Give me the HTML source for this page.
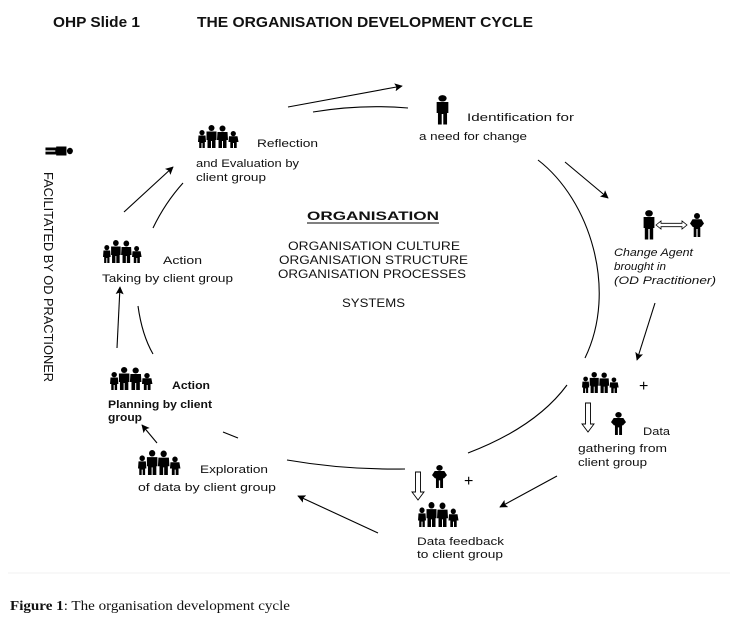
<!DOCTYPE html>
<html><head><meta charset="utf-8"><style>
html,body{margin:0;padding:0;background:#fff;}
svg{display:block;}
.l{font-family:"Liberation Sans",sans-serif;font-size:11px;fill:#111;}
.c{font-family:"Liberation Sans",sans-serif;font-size:11.5px;fill:#111;}
.t{font-family:"Liberation Sans",sans-serif;font-size:15px;font-weight:bold;fill:#111;}
.cap{font-family:"Liberation Serif",serif;font-size:14px;fill:#111;}
</style></head><body>
<svg width="730" height="629" viewBox="0 0 730 629" xmlns="http://www.w3.org/2000/svg">
<defs>
<marker id="ah" viewBox="0 0 10 10" refX="9" refY="5" markerWidth="11" markerHeight="8" orient="auto" markerUnits="userSpaceOnUse">
<path d="M0,0 L10,5 L0,10 L2,5 z" fill="#000"/></marker>
<symbol id="p" viewBox="0 0 10 30" preserveAspectRatio="none">
<circle cx="5" cy="3.3" r="3.2"/>
<path d="M0.5,7 L9.5,7 L9.5,18 L8.5,18 L8.5,29.5 L5.6,29.5 L5.6,19 L4.4,19 L4.4,29.5 L1.5,29.5 L1.5,18 L0.5,18 Z"/></symbol>
<symbol id="q" viewBox="0 0 14 24" preserveAspectRatio="none">
<circle cx="7" cy="3" r="3"/>
<path d="M2.5,6.3 L11.5,6.3 L14,10.5 L11.2,14 L10.3,14 L10.3,24 L7.6,24 L7.6,16 L6.4,16 L6.4,24 L3.7,24 L3.7,14 L2.8,14 L0,10.5 Z"/></symbol>
<symbol id="g" viewBox="0 0 42 23" preserveAspectRatio="none">
<circle cx="4" cy="7.6" r="2.6"/>
<path d="M0.5,10.5 L7.5,10.5 L8,17 L6.8,17 L6.8,23 L4.5,23 L4.5,18 L3.5,18 L3.5,23 L1.2,23 L1.2,17 L0,17 Z"/>
<circle cx="13.5" cy="3" r="3"/>
<path d="M8.5,6.5 L18.5,6.5 L18.5,15 L17.5,15 L17.5,23 L14,23 L14,16 L13,16 L13,23 L9.5,23 L9.5,15 L8.5,15 Z"/>
<circle cx="24.5" cy="3.5" r="3"/>
<path d="M19.5,7 L29.5,7 L30,15 L28.5,15 L28.5,23 L25,23 L25,16 L24,16 L24,23 L20.5,23 L20.5,15 L19,15 Z"/>
<circle cx="35.3" cy="8.6" r="2.6"/>
<path d="M31,11.3 L39.5,11.3 L40.5,17 L38.7,17 L38.7,23 L36,23 L36,18 L35,18 L35,23 L32.3,23 L32.3,17 L30.5,17 Z"/></symbol>
</defs>
<rect width="730" height="629" fill="#fff"/>

<!-- titles -->
<text class="t" x="53" y="27" textLength="87" lengthAdjust="spacingAndGlyphs">OHP Slide 1</text>
<text class="t" x="197" y="27" textLength="336" lengthAdjust="spacingAndGlyphs">THE ORGANISATION DEVELOPMENT CYCLE</text>

<!-- facilitator -->
<use href="#p" x="0" y="0" width="10" height="28" transform="translate(73,146) rotate(90)"/>
<text transform="translate(44,172) rotate(90)" font-family="Liberation Sans, sans-serif" font-size="13" fill="#111" textLength="210" lengthAdjust="spacingAndGlyphs">FACILITATED BY OD PRACTIONER</text>

<!-- arcs -->
<g fill="none" stroke="#000" stroke-width="1.1">
<path d="M313,112 Q360,104 408,108"/>
<path d="M538,160 C590,200 618,290 585,358"/>
<path d="M567,385 Q536,427 468,453"/>
<path d="M287,460 Q345,470 405,469"/>
<path d="M223,432 L238,438"/>
<path d="M138,306 Q142,335 153,354"/>
<path d="M183,183 Q165,203 153,228"/>
</g>
<!-- arrows -->
<g fill="none" stroke="#000" stroke-width="1.1" marker-end="url(#ah)">
<line x1="124" y1="212" x2="173" y2="167"/>
<line x1="288" y1="107" x2="402" y2="86"/>
<line x1="565" y1="162" x2="608" y2="198"/>
<line x1="655" y1="303" x2="637" y2="360"/>
<line x1="557" y1="476" x2="500" y2="507"/>
<line x1="378" y1="533" x2="298" y2="496"/>
<line x1="157" y1="443" x2="142" y2="425"/>
<line x1="117" y1="348" x2="120" y2="287"/>
</g>

<!-- Reflection -->
<use href="#g" x="198" y="125" width="42" height="23"/>
<text class="l" x="257" y="147" textLength="61" lengthAdjust="spacingAndGlyphs">Reflection</text>
<text class="l" x="196" y="167" textLength="103" lengthAdjust="spacingAndGlyphs">and Evaluation by</text>
<text class="l" x="196" y="181" textLength="70" lengthAdjust="spacingAndGlyphs">client group</text>

<!-- Identification -->
<use href="#p" x="436" y="95" width="13" height="30"/>
<text class="l" x="467" y="121" textLength="107" lengthAdjust="spacingAndGlyphs">Identification for</text>
<text class="l" x="419" y="140" textLength="108" lengthAdjust="spacingAndGlyphs">a need for change</text>

<!-- Change agent -->
<use href="#p" x="643" y="210" width="12" height="30"/>
<path d="M656,225 L661,221 L661,223.3 L682,223.3 L682,221 L687,225 L682,229 L682,226.7 L661,226.7 L661,229 Z" fill="#fff" stroke="#000" stroke-width="0.8"/>
<use href="#q" x="690" y="213" width="14" height="24"/>
<text class="l" x="614" y="256" font-style="italic" textLength="79" lengthAdjust="spacingAndGlyphs">Change Agent</text>
<text class="l" x="614" y="270" font-style="italic" textLength="52" lengthAdjust="spacingAndGlyphs">brought in</text>
<text class="l" x="614" y="284" font-style="italic" textLength="102" lengthAdjust="spacingAndGlyphs">(OD Practitioner)</text>

<!-- Data gathering -->
<use href="#g" x="582" y="372" width="38" height="21"/>
<text font-family="Liberation Sans, sans-serif" font-size="16" x="639" y="391">+</text>
<path d="M585.5,403 L590.5,403 L590.5,424 L594,424 L588,432 L582,424 L585.5,424 Z" fill="#fff" stroke="#000" stroke-width="0.9"/>
<use href="#q" x="611" y="412" width="15" height="23"/>
<text class="l" x="643" y="435" textLength="27" lengthAdjust="spacingAndGlyphs">Data</text>
<text class="l" x="578" y="452" textLength="89" lengthAdjust="spacingAndGlyphs">gathering from</text>
<text class="l" x="578" y="466" textLength="69" lengthAdjust="spacingAndGlyphs">client group</text>

<!-- Data feedback -->
<path d="M415.5,472 L420.5,472 L420.5,492 L424,492 L418,500 L412,492 L415.5,492 Z" fill="#fff" stroke="#000" stroke-width="0.9"/>
<use href="#q" x="432" y="465" width="15" height="23"/>
<text font-family="Liberation Sans, sans-serif" font-size="16" x="464" y="486">+</text>
<use href="#g" x="418" y="502" width="42" height="25"/>
<text class="l" x="417" y="545" textLength="87" lengthAdjust="spacingAndGlyphs">Data feedback</text>
<text class="l" x="417" y="558" textLength="86" lengthAdjust="spacingAndGlyphs">to client group</text>

<!-- Exploration -->
<use href="#g" x="138" y="450" width="44" height="25"/>
<text class="l" x="200" y="473" textLength="68" lengthAdjust="spacingAndGlyphs">Exploration</text>
<text class="l" x="138" y="491" textLength="138" lengthAdjust="spacingAndGlyphs">of data by client group</text>

<!-- Planning -->
<use href="#g" x="110" y="367" width="44" height="23"/>
<text class="l" x="172" y="389" font-weight="bold" textLength="38" lengthAdjust="spacingAndGlyphs">Action</text>
<text class="l" x="108" y="408" font-weight="bold" textLength="104" lengthAdjust="spacingAndGlyphs">Planning by client</text>
<text class="l" x="108" y="421" font-weight="bold" textLength="34" lengthAdjust="spacingAndGlyphs">group</text>

<!-- Action taking -->
<use href="#g" x="103" y="240" width="40" height="23"/>
<text class="l" x="163" y="264" textLength="39" lengthAdjust="spacingAndGlyphs">Action</text>
<text class="l" x="102" y="282" textLength="131" lengthAdjust="spacingAndGlyphs">Taking by client group</text>

<!-- Center -->
<text class="c" x="307" y="220" font-size="13" font-weight="bold" textLength="132" lengthAdjust="spacingAndGlyphs">ORGANISATION</text>
<line x1="307" y1="223" x2="439" y2="223" stroke="#000" stroke-width="1"/>
<text class="c" x="288" y="250" textLength="172" lengthAdjust="spacingAndGlyphs">ORGANISATION CULTURE</text>
<text class="c" x="279" y="264" textLength="189" lengthAdjust="spacingAndGlyphs">ORGANISATION STRUCTURE</text>
<text class="c" x="278" y="278" textLength="188" lengthAdjust="spacingAndGlyphs">ORGANISATION PROCESSES</text>
<text class="c" x="342" y="307" textLength="63" lengthAdjust="spacingAndGlyphs">SYSTEMS</text>

<!-- caption -->
<line x1="8" y1="573" x2="730" y2="573" stroke="#f2f2f2" stroke-width="1"/>
<text class="cap" x="10" y="610" textLength="280" lengthAdjust="spacingAndGlyphs"><tspan font-weight="bold">Figure 1</tspan>: The organisation development cycle</text>
</svg>
</body></html>
